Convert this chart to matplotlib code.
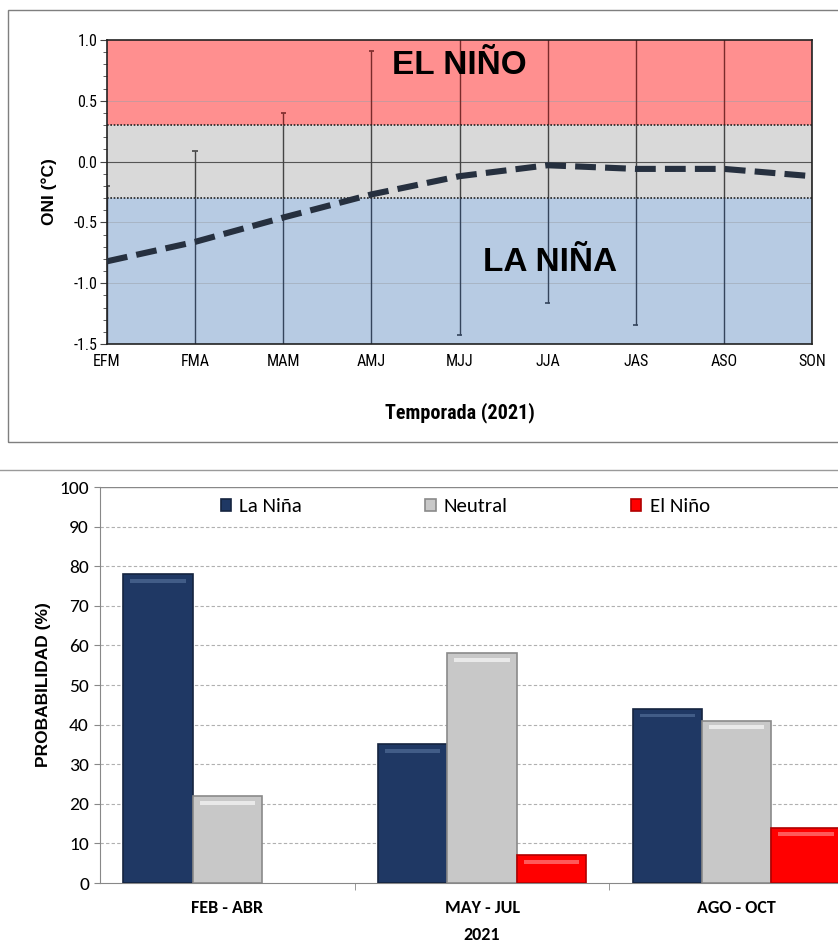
import matplotlib
matplotlib.use("Agg")
import matplotlib.pyplot as plt
from matplotlib.patches import Rectangle
from matplotlib.ticker import MultipleLocator
import numpy as np

# ---------------- data ----------------
seasons = ["EFM", "FMA", "MAM", "AMJ", "MJJ", "JJA", "JAS", "ASO", "SON"]
oni_mean = [-0.82, -0.66, -0.46, -0.27, -0.12, -0.03, -0.06, -0.06, -0.12]
oni_max = [-0.20, 0.09, 0.40, 0.91, 1.20, 1.20, 1.20, 1.20, 1.20]
oni_min = [-1.70, -1.70, -1.70, -1.70, -1.43, -1.16, -1.34, -1.70, -1.70]

periods = ["FEB - ABR", "MAY - JUL", "AGO - OCT"]
year_label = "2021"
series_names = ["La Niña", "Neutral", "El Niño"]
prob_nina = [78, 35, 44]
prob_neutral = [22, 58, 41]
prob_nino = [0, 7, 14]

narrow = "Roboto Condensed"
arial = "Liberation Sans"
calibri = "Carlito"

fig = plt.figure(figsize=(8.38, 9.47), dpi=100)

# panel borders
fig.patches.append(Rectangle((8/838, 1-442/947), 840/838, 432/947, transform=fig.transFigure,
                             fill=False, edgecolor="#7f7f7f", lw=1.0))
fig.lines.append(plt.Line2D([0, 1], [1-470/947, 1-470/947], transform=fig.transFigure,
                            color="#9a9a9a", lw=1.0))

# ---------------- top panel ----------------
ax = fig.add_axes([107/838, 1-344/947, 705/838, 304/947])
x = np.arange(len(seasons))
ax.set_xlim(0, len(seasons)-1)
ax.set_ylim(-1.5, 1.0)

ax.axhspan(0.3, 1.0, color="#ff8f8f", zorder=0, lw=0)
ax.axhspan(-0.3, 0.3, color="#d9d9d9", zorder=0, lw=0)
ax.axhspan(-1.5, -0.3, color="#b7cbe3", zorder=0, lw=0)
for yv in [0.5, -0.5, -1.0]:
    ax.axhline(yv, color="#9aa0a8", lw=0.6, alpha=0.6, zorder=1)
ax.axhline(0.0, color="#555555", lw=0.8, zorder=1)
ax.axhline(0.3, color="#222222", lw=1.2, ls=(0, (1, 1)), zorder=3)
ax.axhline(-0.3, color="#222222", lw=1.2, ls=(0, (1, 1)), zorder=3)

zones = [(0.3, 9.0, "#7a2a2a"), (-0.3, 0.3, "#444444"), (-9.0, -0.3, "#34445c")]
for xi, lo, hi in zip(x, oni_min, oni_max):
    for zlo, zhi, col in zones:
        a, b = max(lo, zlo), min(hi, zhi)
        if b > a:
            ax.vlines(xi, a, b, color=col, lw=1.0, zorder=2)
    if lo > -1.5:
        ax.hlines(lo, xi-0.03, xi+0.03, color="#34445c", lw=1.2, zorder=2)
    if hi < 1.0:
        c_end = "#7a2a2a" if hi > 0.3 else "#444444"
        ax.hlines(hi, xi-0.03, xi+0.03, color=c_end, lw=1.2, zorder=2)

ax.plot(x, oni_mean, color="#26303f", lw=4.4, ls=(0, (3.4, 1.5)), zorder=4,
        solid_capstyle="butt", dash_capstyle="butt")

for sp in ax.spines.values():
    sp.set_linestyle((0, (1, 1)))
    sp.set_color("#222222")
    sp.set_linewidth(1.2)

ax.set_xticks(x)
ax.set_xticklabels(seasons, family=narrow, fontsize=11.5)
ax.tick_params(axis="x", length=0, pad=7)
ax.yaxis.set_minor_locator(MultipleLocator(0.1))
ax.set_yticks([1.0, 0.5, 0.0, -0.5, -1.0, -1.5])
ax.set_yticklabels(["1.0", "0.5", "0.0", "-0.5", "-1.0", "-1.5"], family=narrow, fontsize=11.5)
ax.tick_params(axis="y", which="major", length=5, color="#444444", pad=2)
ax.tick_params(axis="y", which="minor", length=3, color="#444444")
ax.set_ylabel("ONI (°C)", family=arial, fontsize=12.5, fontweight="bold", labelpad=12)
ax.set_xlabel("Temporada (2021)", family=narrow, fontsize=14.5, fontweight="bold", labelpad=24)

ax.text(4.0, 0.79, "EL NIÑO", ha="center", va="center", family=arial, fontsize=24,
        fontweight="bold", color="black", zorder=5)
ax.text(5.03, -0.83, "LA NIÑA", ha="center", va="center", family=arial, fontsize=24,
        fontweight="bold", color="black", zorder=5)

# ---------------- bottom panel ----------------
bx = fig.add_axes([100/838, 1-883/947, 764/838, 396/947])
gx = np.arange(len(periods))
w = 0.272
colors = ["#1f3864", "#c8c8c8", "#ff0000"]
edges = ["#15243f", "#8a8a8a", "#b00000"]
highlights = ["#4a6690", "#f2f2f2", "#ff7070"]
for i, (vals, c, ec, hc, name) in enumerate(zip([prob_nina, prob_neutral, prob_nino], colors, edges,
                                                   highlights, series_names)):
    pos = gx + (i-1)*w
    vals_arr = np.array(vals, dtype=float)
    mask = vals_arr > 0
    bx.bar(pos[mask], vals_arr[mask], width=w, color=c, edgecolor=ec, lw=1.2, zorder=3, label=name)
    bx.bar(pos[mask], np.full(mask.sum(), 1.0), bottom=vals_arr[mask]-2.2, width=w*0.8,
           color=hc, lw=0, zorder=4, alpha=0.8)

bx.set_xlim(-0.5, len(periods)-0.5)
bx.set_ylim(0, 100)
bx.set_yticks(range(0, 101, 10))
bx.set_yticklabels([str(v) for v in range(0, 101, 10)], family=calibri, fontsize=14)
for yv in range(10, 100, 10):
    bx.axhline(yv, color="#b0b0b0", lw=0.8, ls=(0, (3, 2)), zorder=1)
bx.axhline(100, color="#888888", lw=1.0, zorder=1)
bx.spines["top"].set_visible(False)
bx.spines["right"].set_visible(False)
bx.spines["left"].set_color("#888888")
bx.spines["bottom"].set_color("#888888")
bx.tick_params(axis="y", length=4, color="#888888", pad=4)
bx.set_xticks(gx)
bx.set_xticklabels(periods, family=calibri, fontsize=13, fontweight="bold")
bx.tick_params(axis="x", length=0, pad=12)
bx.set_xticks([0.5, 1.5], minor=True)
bx.tick_params(axis="x", which="minor", length=5, color="#888888")
bx.text(1, -0.132, year_label, transform=bx.get_xaxis_transform(), ha="center", va="center",
        family=calibri, fontsize=13, fontweight="bold")
bx.set_ylabel("PROBABILIDAD (%)", family=arial, fontsize=12.5, fontweight="bold", labelpad=6)

leg = bx.legend(ncol=3, loc="center", bbox_to_anchor=(0.478, 0.95), frameon=False,
                prop={"family": calibri, "size": 15}, handlelength=0.5, handleheight=0.5,
                handletextpad=0.4, columnspacing=5.9)

fig.savefig("out.png", dpi=100)
